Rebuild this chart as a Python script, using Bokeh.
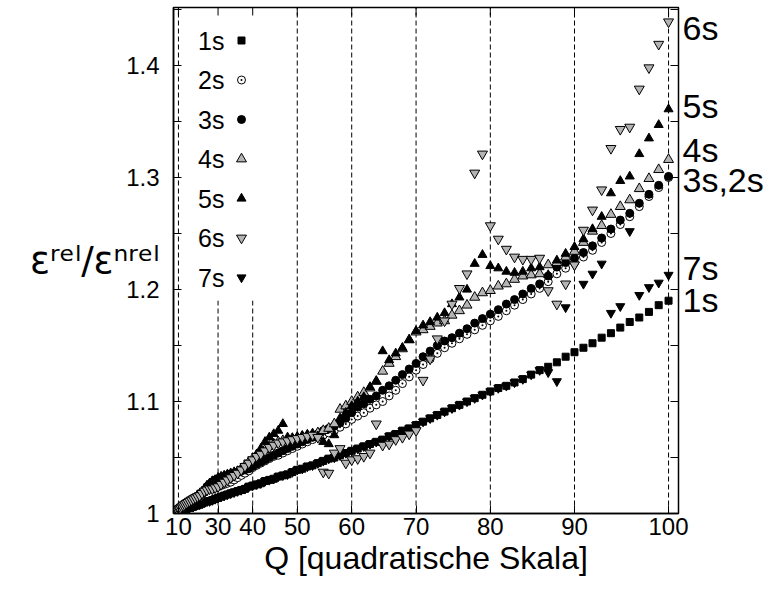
from bokeh.plotting import figure
from bokeh.models import (Range1d, FixedTicker, LinearAxis, CustomJSTickFormatter,
                          NumeralTickFormatter, Label, AllLabels)
from bokeh.embed import file_html
from bokeh.resources import INLINE

# ---------------- data ----------------
Q = list(range(1, 101))

s1 = [1.000, 1.000, 1.000, 1.000, 1.001, 1.001, 1.001, 1.001, 1.002, 1.002,
      1.002, 1.003, 1.003, 1.003, 1.004, 1.004, 1.005, 1.005, 1.006, 1.006,
      1.007, 1.008, 1.008, 1.009, 1.010, 1.011, 1.011, 1.012, 1.013, 1.014,
      1.015, 1.016, 1.017, 1.018, 1.019, 1.020, 1.021, 1.022, 1.024, 1.025,
      1.026, 1.027, 1.029, 1.030, 1.031, 1.033, 1.034, 1.035, 1.037, 1.039,
      1.040, 1.042, 1.043, 1.045, 1.047, 1.049, 1.050, 1.052, 1.054, 1.056,
      1.058, 1.060, 1.062, 1.064, 1.066, 1.069, 1.071, 1.074, 1.076, 1.079,
      1.082, 1.085, 1.088, 1.091, 1.094, 1.097, 1.100, 1.103, 1.106, 1.109,
      1.112, 1.114, 1.117, 1.120, 1.124, 1.128, 1.131, 1.135, 1.140, 1.144,
      1.148, 1.152, 1.157, 1.161, 1.166, 1.171, 1.175, 1.180, 1.186, 1.190]

s2 = [1.000, 1.000, 1.000, 1.001, 1.001, 1.001, 1.002, 1.002, 1.003, 1.003,
      1.004, 1.004, 1.005, 1.006, 1.007, 1.008, 1.009, 1.010, 1.011, 1.012,
      1.013, 1.014, 1.015, 1.017, 1.019, 1.021, 1.022, 1.022, 1.023, 1.024,
      1.025, 1.026, 1.027, 1.028, 1.030, 1.032, 1.034, 1.036, 1.038, 1.041,
      1.043, 1.045, 1.047, 1.049, 1.051, 1.052, 1.054, 1.056, 1.058, 1.060,
      1.062, 1.064, 1.066, 1.068, 1.070, 1.072, 1.074, 1.077, 1.080, 1.084,
      1.087, 1.090, 1.094, 1.097, 1.100, 1.105, 1.110, 1.116, 1.122, 1.128,
      1.133, 1.138, 1.143, 1.148, 1.152, 1.156, 1.160, 1.164, 1.168, 1.172,
      1.176, 1.181, 1.186, 1.191, 1.196, 1.201, 1.207, 1.214, 1.219, 1.224,
      1.229, 1.235, 1.242, 1.250, 1.258, 1.265, 1.274, 1.283, 1.291, 1.300]

s3 = [1.000, 1.000, 1.000, 1.001, 1.001, 1.002, 1.002, 1.003, 1.003, 1.004,
      1.004, 1.005, 1.006, 1.006, 1.007, 1.008, 1.009, 1.010, 1.011, 1.012,
      1.013, 1.015, 1.017, 1.019, 1.021, 1.024, 1.026, 1.028, 1.030, 1.031,
      1.032, 1.033, 1.034, 1.035, 1.036, 1.037, 1.038, 1.039, 1.040, 1.042,
      1.044, 1.046, 1.048, 1.050, 1.052, 1.054, 1.056, 1.058, 1.060, 1.062,
      1.064, 1.066, 1.068, 1.071, 1.074, 1.076, 1.078, 1.081, 1.085, 1.090,
      1.095, 1.098, 1.102, 1.105, 1.110, 1.114, 1.119, 1.124, 1.129, 1.134,
      1.140, 1.145, 1.150, 1.154, 1.157, 1.161, 1.165, 1.170, 1.174, 1.178,
      1.182, 1.187, 1.191, 1.196, 1.201, 1.205, 1.212, 1.220, 1.224, 1.228,
      1.233, 1.239, 1.246, 1.254, 1.262, 1.268, 1.277, 1.285, 1.293, 1.301]

s4 = [1.000, 1.000, 1.001, 1.001, 1.001, 1.002, 1.002, 1.003, 1.003, 1.004,
      1.004, 1.005, 1.006, 1.007, 1.008, 1.009, 1.010, 1.011, 1.012, 1.013,
      1.014, 1.016, 1.017, 1.019, 1.021, 1.022, 1.023, 1.023, 1.024, 1.025,
      1.027, 1.029, 1.031, 1.033, 1.035, 1.037, 1.040, 1.043, 1.046, 1.049,
      1.052, 1.054, 1.057, 1.060, 1.062, 1.064, 1.065, 1.066, 1.067, 1.068,
      1.069, 1.070, 1.071, 1.072, 1.074, 1.076, 1.080, 1.093, 1.096, 1.100,
      1.104, 1.108, 1.112, 1.118, 1.127, 1.134, 1.140, 1.147, 1.155, 1.162,
      1.164, 1.167, 1.170, 1.172, 1.177, 1.181, 1.186, 1.193, 1.197, 1.199,
      1.203, 1.205, 1.209, 1.212, 1.213, 1.214, 1.222, 1.224, 1.229, 1.234,
      1.242, 1.252, 1.257, 1.267, 1.274, 1.280, 1.290, 1.299, 1.307, 1.316]

s5 = [1.000, 1.000, 1.000, 1.001, 1.001, 1.002, 1.002, 1.003, 1.003, 1.004,
      1.004, 1.005, 1.006, 1.006, 1.007, 1.008, 1.009, 1.010, 1.011, 1.012,
      1.013, 1.015, 1.017, 1.019, 1.022, 1.025, 1.027, 1.029, 1.030, 1.032,
      1.033, 1.034, 1.035, 1.036, 1.037, 1.038, 1.039, 1.040, 1.042, 1.046,
      1.053, 1.058, 1.064, 1.068, 1.071, 1.074, 1.080, 1.068, 1.067, 1.068,
      1.069, 1.070, 1.071, 1.069, 1.064, 1.062, 1.070, 1.085, 1.090, 1.096,
      1.100, 1.104, 1.113, 1.118, 1.145, 1.137, 1.143, 1.148, 1.155, 1.163,
      1.168, 1.171, 1.175, 1.179, 1.187, 1.193, 1.200, 1.223, 1.231, 1.221,
      1.219, 1.216, 1.215, 1.216, 1.219, 1.220, 1.213, 1.226, 1.232, 1.238,
      1.245, 1.254, 1.265, 1.286, 1.297, 1.301, 1.321, 1.335, 1.347, 1.361]

s6 = [1.000, 1.000, 1.001, 1.001, 1.001, 1.002, 1.002, 1.003, 1.003, 1.004,
      1.004, 1.005, 1.006, 1.007, 1.008, 1.009, 1.010, 1.011, 1.012, 1.013,
      1.014, 1.015, 1.016, 1.018, 1.020, 1.021, 1.022, 1.022, 1.023, 1.024,
      1.026, 1.028, 1.030, 1.032, 1.034, 1.036, 1.039, 1.042, 1.045, 1.048,
      1.051, 1.053, 1.056, 1.059, 1.061, 1.063, 1.064, 1.065, 1.066, 1.067,
      1.068, 1.069, 1.070, 1.068, 1.037, 1.036, 1.054, 1.058, 1.045, 1.048,
      1.049, 1.051, 1.054, 1.080, 1.061, 1.062, 1.066, 1.068, 1.071, 1.074,
      1.119, 1.138, 1.156, 1.172, 1.187, 1.201, 1.214, 1.304, 1.321, 1.257,
      1.245, 1.236, 1.229, 1.227, 1.227, 1.228, 1.199, 1.187, 1.205, 1.222,
      1.253, 1.271, 1.289, 1.326, 1.343, 1.345, 1.379, 1.398, 1.419, 1.439]

s7 = [1.000, 1.000, 1.000, 1.000, 1.001, 1.001, 1.001, 1.001, 1.002, 1.002,
      1.002, 1.003, 1.003, 1.003, 1.004, 1.004, 1.005, 1.005, 1.006, 1.006,
      1.007, 1.008, 1.008, 1.009, 1.010, 1.011, 1.011, 1.012, 1.013, 1.014,
      1.015, 1.016, 1.017, 1.018, 1.019, 1.020, 1.021, 1.022, 1.024, 1.025,
      1.026, 1.027, 1.029, 1.030, 1.031, 1.033, 1.034, 1.035, 1.037, 1.039,
      1.040, 1.042, 1.043, 1.045, 1.047, 1.049, 1.050, 1.052, 1.054, 1.056,
      1.058, 1.060, 1.062, 1.064, 1.066, 1.069, 1.071, 1.074, 1.076, 1.079,
      1.082, 1.085, 1.088, 1.091, 1.094, 1.097, 1.100, 1.103, 1.106, 1.109,
      1.112, 1.114, 1.117, 1.120, 1.124, 1.128, 1.126, 1.118, 1.184, 1.222,
      1.205, 1.214, 1.223, 1.179, 1.185, 1.252, 1.195, 1.202, 1.206, 1.213]

series_names = ["1s", "2s", "3s", "4s", "5s", "6s", "7s"]
x_tick_q = [10, 30, 40, 50, 60, 70, 80, 90, 100]
grid_full_q = [10, 50, 60, 70, 80, 90, 100]
grid_short_q = [30, 40]
grid_short_top = 1.19
y_major = [1.0, 1.1, 1.2, 1.3, 1.4]
y_minor = [1.05, 1.15, 1.25, 1.35, 1.45]
end_labels = ["6s", "5s", "4s", "3s,2s", "7s", "1s"]
y_title = "εʳᵉˡ/εⁿʳᵉˡ"
x_title = "Q [quadratische Skala]"

# ---------------- layout ----------------
W, H = 772, 595
FL, FR, FT, FB = 173, 678, 7, 513
XMAX = 10201.0
YMIN, YMAX = 1.0, 1.0 + (FB - FT) / 1120.0
FONT = "Liberation Sans"
TICK = 8


def dx(px):
    return (px - FL) / (FR - FL) * XMAX


def dy(py):
    return YMIN + (FB - py) / (FB - FT) * (YMAX - YMIN)


xs = [q * q for q in Q]
x_ticks = [q * q for q in x_tick_q]

p = figure(width=W, height=H, x_range=Range1d(0, XMAX), y_range=Range1d(YMIN, YMAX),
           output_backend="svg", toolbar_location=None,
           min_border_left=FL, min_border_right=W - FR,
           min_border_top=FT, min_border_bottom=H - FB)
p.grid.visible = False
p.outline_line_color = "black"
p.outline_line_width = 1.5
p.background_fill_color = "white"
p.border_fill_color = "white"

xa = p.xaxis[0]
xa.ticker = FixedTicker(ticks=x_ticks, minor_ticks=[])
xa.formatter = CustomJSTickFormatter(code="return String(Math.round(Math.sqrt(tick)));")
xa.major_label_policy = AllLabels()
xa.major_tick_in = TICK
xa.major_tick_out = 0
xa.minor_tick_in = 0
xa.minor_tick_out = 0
xa.axis_line_width = 1.5
xa.major_label_text_font = FONT
xa.major_label_text_font_size = "24px"
xa.major_label_text_color = "black"
xa.major_label_standoff = 4
xa.axis_label = x_title
xa.axis_label_text_font = FONT
xa.axis_label_text_font_size = "32px"
xa.axis_label_text_font_style = "normal"
xa.axis_label_text_color = "black"
xa.axis_label_standoff = 2

ya = p.yaxis[0]
ya.ticker = FixedTicker(ticks=y_major, minor_ticks=y_minor)
ya.formatter = NumeralTickFormatter(format="0.[0]")
ya.major_label_policy = AllLabels()
ya.major_tick_in = TICK
ya.major_tick_out = 0
ya.minor_tick_in = TICK
ya.minor_tick_out = 0
ya.axis_line_width = 1.5
ya.major_label_text_font = FONT
ya.major_label_text_font_size = "24px"
ya.major_label_text_color = "black"
ya.major_label_standoff = 14

# y title carried by a tick-less second left axis, centred a bit above mid-frame
vc = dy(240)
title_axis = LinearAxis(
    ticker=FixedTicker(ticks=[], minor_ticks=[]),
    bounds=(vc - 0.2, vc + 0.2),
    axis_line_color=None, major_tick_in=0, major_tick_out=0,
    minor_tick_in=0, minor_tick_out=0,
    axis_label=y_title, axis_label_orientation="horizontal",
    axis_label_text_font="DejaVu Sans", axis_label_text_font_size="37px",
    axis_label_text_font_style="normal", axis_label_text_color="black",
    axis_label_standoff=-36)
p.add_layout(title_axis, "left")

# end-of-curve labels, as the labels of a right-hand axis
end_px = [27, 105, 149, 179, 267, 299]
end_vals = [dy(v) for v in end_px]
right = LinearAxis(
    ticker=FixedTicker(ticks=end_vals, minor_ticks=[]),
    formatter=CustomJSTickFormatter(
        args=dict(vals=end_vals, labels=end_labels),
        code=("let b = 0, d = Infinity;"
              "for (let i = 0; i < vals.length; i++) {"
              "  const e = Math.abs(vals[i] - tick); if (e < d) { d = e; b = i; } }"
              "return labels[b];")),
    major_label_policy=AllLabels(),
    major_tick_in=0, major_tick_out=0, minor_tick_in=0, minor_tick_out=0,
    axis_line_color=None, major_label_standoff=4,
    major_label_text_font=FONT, major_label_text_font_size="34px",
    major_label_text_color="black")
p.add_layout(right, "right")

# mirrored tick marks on the top and right edges of the frame
ly = TICK / (FB - FT) * (YMAX - YMIN)
lx = TICK / (FR - FL) * XMAX
p.segment(x0=x_ticks, x1=x_ticks, y0=[YMAX] * len(x_ticks), y1=[YMAX - ly] * len(x_ticks),
          line_color="black", line_width=1)
yt = y_major + y_minor
p.segment(x0=[XMAX] * len(yt), x1=[XMAX - lx] * len(yt), y0=yt, y1=yt,
          line_color="black", line_width=1)

# dashed vertical guide lines
dash = "5 3"
p.segment(x0=[q * q for q in grid_full_q], x1=[q * q for q in grid_full_q],
          y0=[YMIN] * len(grid_full_q), y1=[YMAX] * len(grid_full_q),
          line_color="black", line_width=1, line_dash=dash)
p.segment(x0=[q * q for q in grid_short_q], x1=[q * q for q in grid_short_q],
          y0=[YMIN] * len(grid_short_q), y1=[grid_short_top] * len(grid_short_q),
          line_color="black", line_width=1, line_dash=dash)

gray = "#b4b4b4"
styles = {
    "1s": dict(marker="square", size=7, fill_color="black", line_color="black"),
    "2s": dict(marker="circle_dot", size=8, fill_color="white", line_color="black"),
    "3s": dict(marker="circle", size=8, fill_color="black", line_color="black"),
    "4s": dict(marker="triangle", size=10, fill_color=gray, line_color="black"),
    "5s": dict(marker="triangle", size=9, fill_color="black", line_color="black"),
    "6s": dict(marker="inverted_triangle", size=10, fill_color=gray, line_color="black"),
    "7s": dict(marker="inverted_triangle", size=9, fill_color="black", line_color="black"),
}
data = {"1s": s1, "2s": s2, "3s": s3, "4s": s4, "5s": s5, "6s": s6, "7s": s7}

for name in ["7s", "1s", "2s", "3s", "4s", "5s", "6s"]:
    p.scatter(xs, data[name], line_width=1, **styles[name])

# legend (text left, sample right, like the original)
for i, name in enumerate(series_names):
    yy = dy(40 + 39.5 * i)
    p.add_layout(Label(x=dx(224), y=yy, text=name, text_align="right",
                       text_baseline="middle", text_font=FONT,
                       text_font_size="25px", text_color="black"))
    p.scatter([dx(241)], [yy], line_width=1, **styles[name])

open("out.html", "w").write(file_html(p, INLINE))
